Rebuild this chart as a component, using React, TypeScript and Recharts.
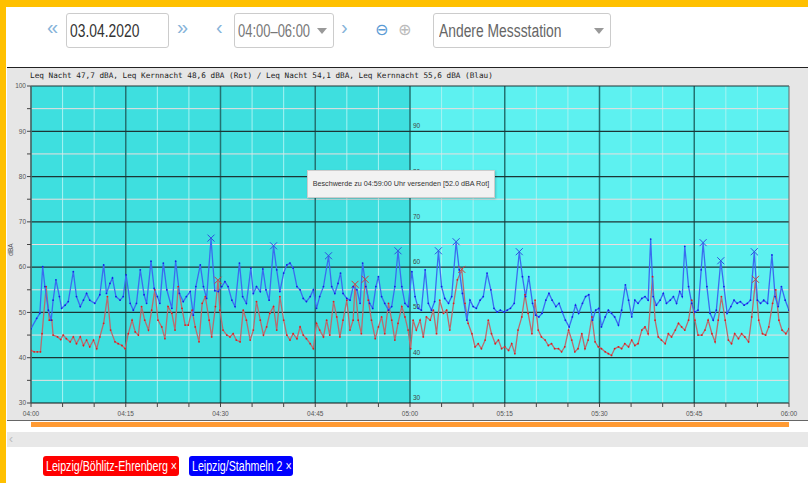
import { LineChart, Line, XAxis, YAxis, ReferenceLine, ReferenceArea, ReferenceDot } from "recharts";

const TIME_LABELS = ["04:00", "04:15", "04:30", "04:45", "05:00", "05:15", "05:30", "05:45", "06:00"];
const MINUTE_TICKS = [0, 5, 10, 15, 20, 25, 30, 35, 40, 45, 50, 55, 60, 65, 70, 75, 80, 85, 90, 95, 100, 105, 110, 115, 120];
const MAJOR_MINUTES = [15, 30, 45, 60, 75, 90, 105];
const DB_TICKS = [30, 35, 40, 45, 50, 55, 60, 65, 70, 75, 80, 85, 90, 95, 100];
const DB_MAJOR = [40, 50, 60, 70, 80, 90, 100];
const DB_MINOR = [35, 45, 55, 65, 75, 85, 95];
const MID_LABELS = [30, 40, 50, 60, 70, 80, 90];

const TITLE = "Leq Nacht 47,7 dBA, Leq Kernnacht 48,6 dBA (Rot) / Leq Nacht 54,1 dBA, Leq Kernnacht 55,6 dBA (Blau)";
const TOOLTIP_TEXT = "Beschwerde zu 04:59:00 Uhr versenden [52.0 dBA Rot]";

// [minute after 04:00, dBA]
const RED: [number, number][] = [
  [0, 41.6], [0.5, 41.3], [1, 41.3], [1.5, 41.3], [1.75, 45.3], [2.4, 55.7], [2.9, 48.3], [3.3, 48.3], [3.5, 45], [4.2, 44.6],
  [4.7, 44], [5.1, 45], [5.6, 44.2], [6.2, 43.5], [6.7, 44.6], [7.2, 43.1], [7.8, 44.6], [8.3, 42.7], [8.8, 43.9], [9.3, 42.4],
  [9.9, 43.9], [10.4, 42], [10.9, 44.6], [11.5, 47.6], [12.1, 53.5], [12.6, 46.1], [13.3, 43.5], [13.8, 43.1], [14.4, 42.7], [14.9, 42],
  [15.4, 45.3], [16, 48.3], [16.5, 45.7], [17, 45], [17.5, 51.3], [18, 48.3], [18.6, 46.1], [19.1, 50.5], [19.6, 55], [20.1, 48.3],
  [20.7, 46.8], [21.2, 44.2], [21.7, 51.3], [22.3, 49.8], [22.8, 46.1], [23.3, 55.7], [23.9, 50.9], [24.4, 47.2], [24.9, 47.2], [25.5, 50.5],
  [26, 46.8], [26.6, 43.5], [27.1, 52], [27.6, 53.5], [28.2, 48.3], [28.6, 44.6], [29.2, 51.3], [29.6, 57], [29.9, 50.5], [30.4, 46.1],
  [31, 45], [31.5, 44.6], [32, 45.3], [32.5, 43.9], [33.1, 43.5], [33.6, 50.5], [34.1, 48.3], [34.7, 43.9], [35.2, 46.1], [35.7, 52.4],
  [36.3, 48.3], [36.8, 45], [37.3, 46.8], [37.8, 49.8], [38.4, 51.3], [38.9, 46.1], [39.4, 53.5], [40, 48.3], [40.5, 45], [41, 43.9],
  [41.5, 45.3], [42.1, 44.2], [42.6, 46.8], [43.1, 45], [43.6, 44.2], [44.2, 43.1], [44.7, 42], [45.2, 47.6], [45.7, 46.1], [46.3, 44.6],
  [46.8, 48.3], [47.3, 45], [47.9, 52.4], [48.4, 49], [48.9, 44.6], [49.4, 48.3], [50, 52.7], [50.5, 46.1], [51, 48.3], [51.3, 56.1],
  [51.8, 48.3], [52.3, 45.3], [52.9, 57.2], [53.4, 52.7], [53.9, 48.3], [54.5, 44.2], [55, 46.8], [55.5, 49], [56, 45.3], [56.6, 52],
  [57.1, 48.3], [57.6, 43.9], [58.1, 47.6], [58.7, 51.3], [59.2, 49], [59.7, 46.1], [60.1, 42], [60.5, 48.3], [61, 46.1], [61.6, 48.3],
  [62.1, 44.6], [62.6, 49], [63.2, 48.3], [63.7, 50.5], [64.2, 45.3], [64.7, 52.7], [65.3, 49.8], [65.8, 50.5], [66.3, 46.1], [66.9, 52],
  [67.5, 57.2], [68.2, 59.4], [68.7, 52], [69.2, 47.6], [69.8, 45.3], [70.3, 42.4], [70.8, 43.1], [71.3, 42], [71.9, 43.9], [72.4, 48.3],
  [72.9, 45.3], [73.5, 43.1], [74, 43.9], [74.5, 42], [75, 42.4], [75.6, 41.6], [76.1, 43.1], [76.6, 40.9], [77.1, 46.1], [77.7, 49],
  [78.2, 53.9], [78.7, 49.8], [79.3, 45.3], [79.8, 52.7], [80.3, 46.1], [80.8, 44.6], [81.4, 43.9], [81.9, 42.7], [82.4, 43.1], [82.9, 42],
  [83.5, 42], [84, 41.3], [84.5, 42.4], [85.1, 46.1], [85.6, 43.9], [86.1, 41.3], [86.6, 42], [87.2, 45.3], [87.7, 42], [88.2, 43.9],
  [88.8, 49], [89.3, 43.5], [89.8, 42.4], [90.3, 42], [90.9, 41.3], [91.4, 40.9], [91.9, 40.5], [92.4, 42], [93, 42.4], [93.5, 42],
  [94, 43.1], [94.6, 42.4], [95.1, 43.9], [95.6, 42.7], [96.1, 43.1], [96.7, 46.1], [97.2, 46.8], [97.7, 45.3], [98.4, 57.9], [98.8, 48.3],
  [99.3, 44.6], [99.8, 43.9], [100.4, 43.1], [100.9, 45.3], [101.4, 44.6], [102, 46.1], [102.5, 47.6], [103, 46.8], [103.5, 46.1], [104.1, 48.3],
  [104.6, 52.7], [105.1, 48.3], [105.6, 45], [106.2, 45], [106.7, 46.1], [107.2, 48.3], [107.8, 45.3], [108.3, 43.5], [108.8, 48.3], [109.3, 53.5],
  [109.9, 48.3], [110.4, 43.9], [110.9, 43.1], [111.4, 45.3], [112, 44.2], [112.5, 45.3], [113, 44.6], [113.6, 43.5], [114.1, 49], [114.7, 57.2],
  [115.2, 48.3], [115.8, 45.3], [116.3, 45], [116.8, 46.8], [117.4, 52], [117.9, 55], [118.4, 48.3], [118.9, 46.1], [119.5, 45.3], [120, 46.4],
];

const BLUE: [number, number][] = [
  [0, 46.4], [0.9, 48.7], [1.4, 49.8], [1.85, 60.1], [2.2, 55.7], [2.75, 50.5], [3.2, 48.3], [3.5, 52.7], [3.95, 57.2], [4.5, 53.5],
  [4.85, 50.9], [5.4, 51.6], [5.9, 52.4], [6.7, 59], [7.2, 53.5], [7.8, 51.3], [8.3, 52.7], [8.8, 54.2], [9.3, 52.7], [10.1, 52],
  [10.9, 53.9], [11.5, 60.5], [11.95, 54.2], [12.5, 56.4], [12.9, 57.6], [13.45, 53.5], [14.1, 52.7], [14.6, 53.5], [15.05, 58.3], [15.7, 52],
  [16.2, 50.5], [16.7, 52], [17.3, 59.4], [17.9, 53.9], [18.3, 52], [19, 61.3], [19.5, 55.3], [20, 53.5], [20.4, 52], [20.95, 60.9],
  [21.5, 55], [22.3, 50.9], [22.9, 61.3], [23.5, 54.2], [24.1, 52.4], [24.6, 53.5], [25.2, 54.6], [25.7, 49.4], [26.1, 55.7], [26.8, 60.5],
  [27.3, 55.7], [27.8, 53.1], [28.5, 66.3], [29.1, 54.8], [29.65, 54.6], [30.2, 55.7], [30.7, 56.8], [31.2, 55.7], [31.8, 52.7], [32.3, 51.3],
  [33, 60.9], [33.5, 53.5], [34.1, 52], [34.8, 59.8], [35.2, 54.2], [35.7, 55.7], [36.3, 54.6], [36.7, 59.6], [37.2, 55], [37.7, 52.7],
  [38.4, 64.6], [38.9, 59.4], [39.4, 54.6], [40, 58.7], [40.5, 60.5], [41, 60.9], [41.5, 59.8], [42.1, 55.7], [42.6, 55], [43.1, 53.1],
  [43.6, 52.4], [44.2, 53.5], [44.7, 55], [45.2, 50.9], [45.7, 53.5], [46.3, 55.7], [47.1, 62.4], [47.6, 55.7], [48.1, 54.2], [48.6, 56.4],
  [49, 58.7], [49.4, 54.2], [50, 53.1], [50.5, 52.7], [51, 55.7], [51.6, 55], [52.1, 52], [52.5, 60.9], [53, 55.7], [53.6, 52],
  [54.1, 50.9], [54.6, 55.7], [55, 57.9], [55.5, 53.5], [56, 52], [56.6, 50.5], [57.1, 51.3], [57.6, 55.7], [58.1, 63.5], [58.7, 55.7],
  [59.2, 52], [59.7, 51.3], [60.3, 59], [60.8, 53.5], [61.3, 50.9], [61.8, 50.5], [62.4, 59.4], [62.9, 52], [63.4, 50.5], [63.9, 52.4],
  [64.5, 63.5], [65, 55.7], [65.5, 53.1], [66.1, 52], [66.6, 53.5], [67.3, 65.5], [67.8, 59.4], [68.3, 54.2], [69, 48.3], [69.5, 52.7],
  [70, 51.3], [70.5, 50.9], [71.1, 52.7], [71.6, 53.5], [72.2, 58.7], [72.8, 55], [73.3, 50.9], [73.8, 50.1], [74.3, 50.5], [74.9, 50.1],
  [75.4, 50.5], [75.9, 50.9], [76.5, 52], [77.3, 63.3], [77.8, 57.9], [78.3, 53.5], [78.8, 57.9], [79.4, 52], [79.9, 49.4], [80.4, 49],
  [80.9, 49.8], [81.5, 52.7], [82, 54.2], [82.5, 52.7], [83.1, 51.3], [83.6, 52], [84.1, 50.1], [84.6, 48.3], [85.2, 46.8], [85.7, 49],
  [86.2, 51.6], [86.7, 49.8], [87.3, 52], [87.8, 53.5], [88.3, 53.9], [88.9, 48.3], [89.4, 50.5], [89.9, 50.9], [90.3, 46.8], [90.9, 49],
  [91.4, 50.5], [91.9, 49.8], [92.4, 49], [93, 47.2], [93.5, 50.5], [94.1, 56.1], [94.6, 52.7], [95.1, 49], [95.6, 52.7], [96.1, 52],
  [96.7, 53.1], [97.2, 53.5], [97.7, 52.7], [98.1, 66.2], [98.5, 53.5], [99, 51.6], [99.6, 52.7], [100.1, 54.2], [100.6, 52], [101.2, 52.7],
  [101.7, 53.5], [102.2, 52], [102.7, 54.6], [103.1, 53.5], [103.5, 64.6], [104.1, 55.7], [104.6, 52], [105.1, 50.1], [105.6, 50.5], [106.1, 59.4],
  [106.4, 65.3], [107, 55.7], [107.5, 49.8], [108, 48.3], [108.5, 50.5], [109.2, 61.3], [109.7, 55.7], [110.2, 49.8], [110.8, 51.3], [111.3, 52.7],
  [111.8, 52], [112.3, 52.4], [112.9, 51.6], [113.4, 52], [113.9, 52.7], [114.5, 63.3], [115, 52.7], [115.5, 52], [116, 52.7], [116.6, 52],
  [117.3, 62.7], [117.8, 53.5], [118.3, 51.3], [118.8, 55.7], [119.4, 52.7], [120, 50.5],
];

// complaint markers (minute of the marked reading)
const RED_MARKS = [29.6, 51.3, 52.9, 68.2, 114.7];
const BLUE_MARKS = [28.5, 38.4, 47.1, 58.1, 64.5, 67.3, 77.3, 106.4, 109.2, 114.5];

const redData = RED.map(([t, v]) => ({ t, v }));
const blueData = BLUE.map(([t, v]) => ({ t, v }));

const tickFont = { fontSize: 6.5, fill: "#555", fontFamily: "Liberation Sans" };

function makeDot(marks: number[], dotColor: string, markColor: string) {
  return (p: any) => {
    const { cx, cy, index, payload } = p;
    if (marks.includes(payload.t)) {
      return (
        <path
          key={index}
          d={`M${cx - 3.5},${cy - 4}L${cx + 3.5},${cy + 3}M${cx + 3.5},${cy - 4}L${cx - 3.5},${cy + 3}`}
          stroke={markColor}
          strokeWidth={1}
          fill="none"
        />
      );
    }
    return <circle key={index} cx={cx} cy={cy} r={0.9} fill={dotColor} />;
  };
}

// the page font is a condensed sans; squeeze Liberation Sans to match
function Narrow({ text, color, size, scale = 0.77 }: { text: string; color: string; size: number; scale?: number }) {
  return (
    <span style={{
      display: "inline-block", transform: `scaleX(${scale})`, transformOrigin: "0 50%",
      fontSize: size, color, fontFamily: "Liberation Sans", whiteSpace: "nowrap",
    }}>{text}</span>
  );
}

function Arrow({ left }: { left: number }) {
  return (
    <div style={{
      position: "absolute", left, top: 28, width: 0, height: 0,
      borderLeft: "5px solid transparent", borderRight: "5px solid transparent", borderTop: "6px solid #999",
    }} />
  );
}

const box = {
  position: "absolute" as const, top: 13, height: 35, border: "1px solid #ccc", borderRadius: 3,
  boxSizing: "border-box" as const, background: "#fff",
};
const arrowGlyph = { position: "absolute" as const, top: 16, fontSize: 20, color: "#86b3d9", fontFamily: "Liberation Sans" };
const tag = {
  position: "absolute" as const, top: 456, height: 20, borderRadius: 3, lineHeight: "20px",
  paddingLeft: 3, boxSizing: "border-box" as const, overflow: "hidden",
};

export default function App() {
  return (
    <div style={{ position: "absolute", left: 0, top: 0, width: 808, height: 483, background: "#fff", overflow: "hidden" }}>
      {/* frame */}
      <div style={{ position: "absolute", left: 0, top: 0, width: 808, height: 7, background: "#ffc000" }} />
      <div style={{ position: "absolute", left: 0, top: 0, width: 6, height: 483, background: "#ffc000" }} />

      {/* toolbar */}
      <div style={{ ...arrowGlyph, left: 47 }}>«</div>
      <div style={{ ...box, left: 66, width: 103 }}>
        <div style={{ position: "absolute", left: 3, top: 7 }}><Narrow text="03.04.2020" color="#333" size={18} /></div>
      </div>
      <div style={{ ...arrowGlyph, left: 177 }}>»</div>
      <div style={{ ...arrowGlyph, left: 216 }}>‹</div>
      <div style={{ ...box, left: 234, width: 100 }}>
        <div style={{ position: "absolute", left: 3, top: 7 }}><Narrow text="04:00–06:00" color="#777" size={18} scale={0.72} /></div>
      </div>
      <Arrow left={317} />
      <div style={{ ...arrowGlyph, left: 341 }}>›</div>
      <div style={{ position: "absolute", left: 375, top: 20, fontSize: 16, color: "#5b9bd5", fontFamily: "DejaVu Sans" }}>⊖</div>
      <div style={{ position: "absolute", left: 398, top: 20, fontSize: 16, color: "#bbb", fontFamily: "DejaVu Sans" }}>⊕</div>
      <div style={{ ...box, left: 433, width: 178 }}>
        <div style={{ position: "absolute", left: 5, top: 7 }}><Narrow text="Andere Messstation" color="#666" size={18} /></div>
      </div>
      <Arrow left={594} />

      {/* chart panel */}
      <div style={{ position: "absolute", left: 7, top: 67, width: 801, height: 354, background: "#e6e6e6" }} />
      <div style={{ position: "absolute", left: 7, top: 67, width: 801, height: 1, background: "#222" }} />
      <div style={{ position: "absolute", left: 7, top: 420, width: 801, height: 1, background: "#666" }} />
      <div style={{ position: "absolute", left: 30, top: 71, fontSize: 7.7, color: "#222", fontFamily: "DejaVu Sans Mono", whiteSpace: "nowrap" }}>{TITLE}</div>
      <div style={{ position: "absolute", left: 4, top: 246, fontSize: 6.5, color: "#555", fontFamily: "Liberation Sans", transform: "rotate(-90deg)" }}>dBA</div>

      <div style={{ position: "absolute", left: 7, top: 67 }}>
        <LineChart width={801} height={354} margin={{ top: 19, right: 0, bottom: 0, left: 0 }}>
          <XAxis
            dataKey="t" type="number" domain={[0, 120]} ticks={MINUTE_TICKS} allowDataOverflow
            tickFormatter={(m: number) => (m % 15 === 0 ? TIME_LABELS[m / 15] : "")}
            tick={tickFont} tickSize={4} tickMargin={4} height={18}
            axisLine={{ stroke: "#111" }} tickLine={{ stroke: "#444" }}
          />
          <YAxis
            domain={[30, 100]} ticks={DB_TICKS} width={24} allowDataOverflow
            tickFormatter={(v: number) => (v % 10 === 0 ? String(v) : "")}
            tick={tickFont} tickSize={4} tickMargin={1}
            axisLine={{ stroke: "#666" }} tickLine={{ stroke: "#444" }}
          />
          <YAxis
            yAxisId="r" orientation="right" domain={[30, 100]} ticks={DB_TICKS} width={19}
            tickFormatter={(v: number) => (v % 10 === 0 ? String(v) : "")}
            tick={tickFont} tickSize={3} tickMargin={0}
            axisLine={{ stroke: "#666" }} tickLine={{ stroke: "#444" }}
          />

          <ReferenceArea x1={0} x2={60} y1={30} y2={100} fill="#3edfdf" fillOpacity={1} stroke="none" />
          <ReferenceArea x1={60} x2={120} y1={30} y2={100} fill="#5df1f0" fillOpacity={1} stroke="none" />

          {MINUTE_TICKS.filter((m) => m % 15 !== 0).map((m) => (
            <ReferenceLine key={"vm" + m} x={m} stroke="#a6f3f2" strokeWidth={1} />
          ))}
          {DB_MINOR.map((v) => (
            <ReferenceLine key={"hm" + v} y={v} stroke="#ecdede" strokeWidth={1} />
          ))}
          {MAJOR_MINUTES.map((m) => (
            <ReferenceLine key={"vM" + m} x={m} stroke="#237272" strokeWidth={1.5} />
          ))}
          {DB_MAJOR.map((v) => (
            <ReferenceLine key={"hM" + v} y={v} stroke="#1c3535" strokeWidth={1.2} />
          ))}
          <ReferenceLine x={0} stroke="#237272" strokeWidth={1.5} />

          {MID_LABELS.map((v) => (
            <ReferenceDot
              key={"ml" + v} x={60} y={v} r={0} fill="none" stroke="none"
              label={{
                content: (p: any) => (
                  <text x={p.viewBox.x + 3} y={p.viewBox.y - 3} fontSize={6.5} fill="#444" fontFamily="Liberation Sans">{v}</text>
                ),
              }}
            />
          ))}

          <Line
            data={redData} dataKey="v" type="linear" stroke="#b86c70" strokeWidth={1.3}
            dot={makeDot(RED_MARKS, "#e01c1c", "#d23c3c")} isAnimationActive={false}
          />
          <Line
            data={blueData} dataKey="v" type="linear" stroke="#3a6cf0" strokeWidth={1.3}
            dot={makeDot(BLUE_MARKS, "#1420e6", "#2e4fe0")} isAnimationActive={false}
          />
        </LineChart>
      </div>

      {/* hover hint */}
      <div style={{
        position: "absolute", left: 307, top: 170, width: 188, height: 28, boxSizing: "border-box",
        background: "#f2f2f2", border: "1px solid #ccc", boxShadow: "1px 1px 2px rgba(0,0,0,0.2)",
        fontSize: 7.2, color: "#333", fontFamily: "Liberation Sans", lineHeight: "26px", textAlign: "center", whiteSpace: "nowrap",
      }}>{TOOLTIP_TEXT}</div>

      {/* range bar + scroll */}
      <div style={{ position: "absolute", left: 31, top: 422, width: 758, height: 5, background: "#ff9a33" }} />
      <div style={{ position: "absolute", left: 7, top: 432, width: 801, height: 15, background: "#e8e8e8" }} />
      <div style={{ position: "absolute", left: 9, top: 432, fontSize: 12, color: "#bbb", fontFamily: "Liberation Sans" }}>‹</div>

      {/* station tags */}
      <div style={{ ...tag, left: 43, width: 136, background: "#ff0000" }}>
        <Narrow text="Leipzig/Böhlitz-Ehrenberg ×" color="#fff" size={14} scale={0.76} />
      </div>
      <div style={{ ...tag, left: 189, width: 104, background: "#0000ff" }}>
        <Narrow text="Leipzig/Stahmeln 2 ×" color="#fff" size={14} scale={0.76} />
      </div>
    </div>
  );
}
